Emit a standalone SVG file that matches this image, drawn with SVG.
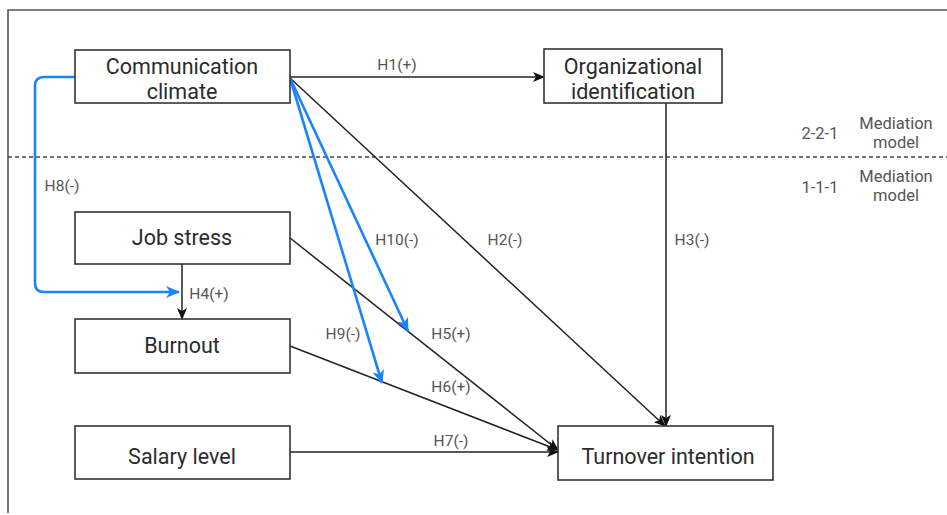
<svg xmlns="http://www.w3.org/2000/svg" width="947" height="515" viewBox="0 0 947 515">
<style>
.box{fill:#fff;stroke:#333;stroke-width:1.6}
.nt{font-family:Roboto,"Open Sans",sans-serif;font-size:21.5px;fill:#2b2b2b;text-anchor:middle}
.lb{font-family:Roboto,"Open Sans",sans-serif;font-size:15.5px;fill:#555;text-anchor:middle}
.md{font-size:16.5px}
.blk{fill:none;stroke:#222;stroke-width:1.5}
.blu{fill:none;stroke:#1a84ff;stroke-width:2.6}
</style>
<defs>
<marker id="ab" viewBox="0 0 12 10" refX="11" refY="5" markerWidth="12" markerHeight="10" markerUnits="userSpaceOnUse" orient="auto">
<path d="M0,0 L12,5 L0,10 L3,5 z" fill="#111"/>
</marker>
<marker id="au" viewBox="0 0 14 12" refX="13" refY="6" markerWidth="14" markerHeight="12" markerUnits="userSpaceOnUse" orient="auto">
<path d="M0,0 L14,6 L0,12 L4,6 z" fill="#1a84ff"/>
</marker>
</defs>
<rect width="947" height="515" fill="#fff"/>
<path d="M8,513 V10 H947" fill="none" stroke="#555" stroke-width="1.6"/>
<line x1="8" y1="157" x2="947" y2="157" stroke="#444" stroke-width="1.5" stroke-dasharray="4,3"/>
<g id="connectors">
<line class="blk" x1="290" y1="77" x2="544" y2="77" marker-end="url(#ab)"/>
<line class="blk" x1="290" y1="78" x2="665" y2="426" marker-end="url(#ab)"/>
<line class="blk" x1="666" y1="103" x2="666" y2="426" marker-end="url(#ab)"/>
<line class="blk" x1="182" y1="264" x2="182" y2="319" marker-end="url(#ab)"/>
<line class="blk" x1="290" y1="238" x2="558" y2="450" marker-end="url(#ab)"/>
<line class="blk" x1="290" y1="346" x2="558" y2="450" marker-end="url(#ab)"/>
<line class="blk" x1="290" y1="452" x2="558" y2="452" marker-end="url(#ab)"/>
<line class="blu" x1="290" y1="78" x2="408" y2="331" marker-end="url(#au)"/>
<line class="blu" x1="290" y1="78" x2="382" y2="383" marker-end="url(#au)"/>
<path class="blu" d="M75,77 H44 Q35,77 35,86 V283 Q35,292 44,292 H179" marker-end="url(#au)"/>
</g>
<g id="labels">
<text class="lb" x="397" y="70">H1(+)</text>
<text class="lb" x="62" y="191">H8(-)</text>
<text class="lb" x="397" y="245">H10(-)</text>
<text class="lb" x="505" y="245">H2(-)</text>
<text class="lb" x="692" y="245">H3(-)</text>
<text class="lb" x="209" y="299">H4(+)</text>
<text class="lb" x="343" y="339">H9(-)</text>
<text class="lb" x="451" y="339">H5(+)</text>
<text class="lb" x="451" y="392">H6(+)</text>
<text class="lb" x="451" y="446">H7(-)</text>
<text class="lb md" x="820" y="139">2-2-1</text>
<text class="lb md" x="820" y="193">1-1-1</text>
<text class="lb md" x="896" y="128.5">Mediation</text>
<text class="lb md" x="896" y="148">model</text>
<text class="lb md" x="896" y="181.5">Mediation</text>
<text class="lb md" x="896" y="201">model</text>
</g>
<g id="communication-climate">
<rect class="box" x="75" y="50" width="215" height="53"/>
<text class="nt" x="182" y="73.5">Communication</text>
<text class="nt" x="182" y="99">climate</text>
</g>
<g id="organizational-identification">
<rect class="box" x="544" y="49" width="178" height="54"/>
<text class="nt" x="633" y="73.5">Organizational</text>
<text class="nt" x="633" y="99">identification</text>
</g>
<g id="job-stress">
<rect class="box" x="75" y="212" width="215" height="52"/>
<text class="nt" x="182" y="245">Job stress</text>
</g>
<g id="burnout">
<rect class="box" x="75" y="319" width="215" height="54"/>
<text class="nt" x="182" y="353">Burnout</text>
</g>
<g id="salary-level">
<rect class="box" x="75" y="426" width="215" height="53"/>
<text class="nt" x="182" y="464">Salary level</text>
</g>
<g id="turnover-intention">
<rect class="box" x="558" y="426" width="215" height="54"/>
<text class="nt" x="668" y="464">Turnover intention</text>
</g>
</svg>
